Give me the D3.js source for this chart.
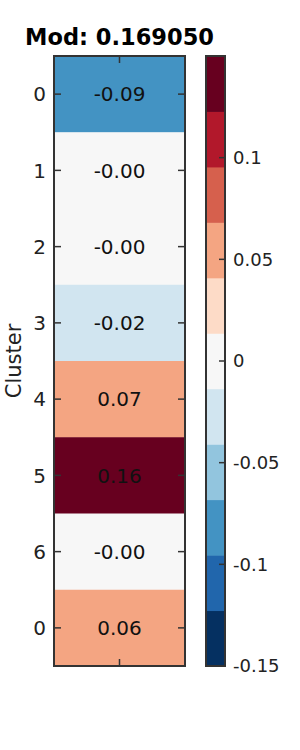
<!DOCTYPE html>
<html><head><meta charset="utf-8">
<script src="https://cdn.jsdelivr.net/npm/d3@7"></script>
<style>body{margin:0;background:#fff;}svg{display:block;font-family:"DejaVu Sans",sans-serif;}</style>
</head><body><div id="chart"></div>
<script>
const rowLabels = ["0","1","2","3","4","5","6","0"];
const values = [-0.09, -0.001, -0.001, -0.02, 0.067, 0.16, -0.001, 0.06];
const colorbarTicks = [-0.15, -0.1, -0.05, 0, 0.05, 0.1];
const palette = ["#053061","#2166ac","#4393c3","#92c5de","#d1e5f0","#f7f7f7","#fddbc7","#f4a582","#d6604d","#b2182b","#67001f"];
const vmin = -0.15, vmax = 0.15;
const title = "Mod: 0.169050";
const yTitle = "Cluster";

const W = 300, H = 750;
const svg = d3.select("#chart").append("svg").attr("width", W).attr("height", H);
const hm = {x0: 54, x1: 185, y0: 56, y1: 666};
const cb = {x0: 206, x1: 225};
const frame = "#333333";

const y = d3.scaleBand().domain(d3.range(values.length)).range([hm.y0, hm.y1]).paddingInner(0).paddingOuter(0);
const nb = palette.length;
const step = (vmax - vmin) / nb;
const thresholds = d3.range(1, nb).map(i => vmin + i * step);
const color = d3.scaleThreshold().domain(thresholds).range(palette);
const fmt = v => v.toFixed(2);

// cells
svg.append("g").selectAll("rect").data(values).join("rect")
  .attr("x", hm.x0).attr("y", (d,i) => y(i))
  .attr("width", hm.x1 - hm.x0).attr("height", y.bandwidth() + 0.5)
  .attr("fill", d => color(d));
svg.append("g").selectAll("text").data(values).join("text")
  .attr("x", (hm.x0 + hm.x1) / 2).attr("y", (d,i) => y(i) + y.bandwidth()/2)
  .attr("text-anchor", "middle").attr("dy", "0.36em")
  .attr("font-size", 20).attr("fill", "#111")
  .text(d => fmt(d));

// ticks (inward) on left/right
const tg = svg.append("g").attr("stroke", frame).attr("stroke-width", 1.5);
values.forEach((d,i) => {
  const cy = y(i) + y.bandwidth()/2;
  tg.append("line").attr("x1", hm.x0).attr("x2", hm.x0 + 7).attr("y1", cy).attr("y2", cy);
  tg.append("line").attr("x1", hm.x1 - 7).attr("x2", hm.x1).attr("y1", cy).attr("y2", cy);
});
const cx = (hm.x0 + hm.x1) / 2;
tg.append("line").attr("x1", cx).attr("x2", cx).attr("y1", hm.y0).attr("y2", hm.y0 + 7);
tg.append("line").attr("x1", cx).attr("x2", cx).attr("y1", hm.y1 - 7).attr("y2", hm.y1);

// row labels
svg.append("g").selectAll("text").data(rowLabels).join("text")
  .attr("x", 46).attr("y", (d,i) => y(i) + y.bandwidth()/2)
  .attr("text-anchor", "end").attr("dy", "0.36em")
  .attr("font-size", 20).attr("fill", "#222").text(d => d);

svg.append("rect").attr("x", hm.x0).attr("y", hm.y0).attr("width", hm.x1 - hm.x0).attr("height", hm.y1 - hm.y0)
  .attr("fill", "none").attr("stroke", frame).attr("stroke-width", 2);

// title
svg.append("text").attr("x", cx).attr("y", 45).attr("text-anchor", "middle")
  .attr("font-size", 22.5).attr("font-weight", "bold").attr("fill", "#000").text(title);

// y title
svg.append("text").attr("transform", `translate(21,${(hm.y0+hm.y1)/2}) rotate(-90)`)
  .attr("text-anchor", "middle").attr("font-size", 21).attr("fill", "#222").text(yTitle);

// colorbar
const cy = d3.scaleLinear().domain([vmin, vmax]).range([hm.y1, hm.y0]);
const bins = d3.range(nb).map(i => ({lo: vmin + i*step, hi: vmin + (i+1)*step, c: palette[i]}));
svg.append("g").selectAll("rect").data(bins).join("rect")
  .attr("x", cb.x0).attr("width", cb.x1 - cb.x0)
  .attr("y", d => cy(d.hi)).attr("height", d => cy(d.lo) - cy(d.hi) + 0.5)
  .attr("fill", d => d.c);
const cbg = svg.append("g");
colorbarTicks.forEach(t => {
  cbg.append("line").attr("x1", cb.x1 - 6).attr("x2", cb.x1).attr("y1", cy(t)).attr("y2", cy(t))
    .attr("stroke", frame).attr("stroke-width", 1.5);
  cbg.append("text").attr("x", cb.x1 + 8).attr("y", cy(t)).attr("dy", "0.36em")
    .attr("font-size", 18).attr("fill", "#222").text(d3.format("")(t).replace("\u2212","-"));
});
svg.append("rect").attr("x", cb.x0).attr("y", hm.y0).attr("width", cb.x1 - cb.x0).attr("height", hm.y1 - hm.y0)
  .attr("fill", "none").attr("stroke", frame).attr("stroke-width", 2);
</script></body></html>
